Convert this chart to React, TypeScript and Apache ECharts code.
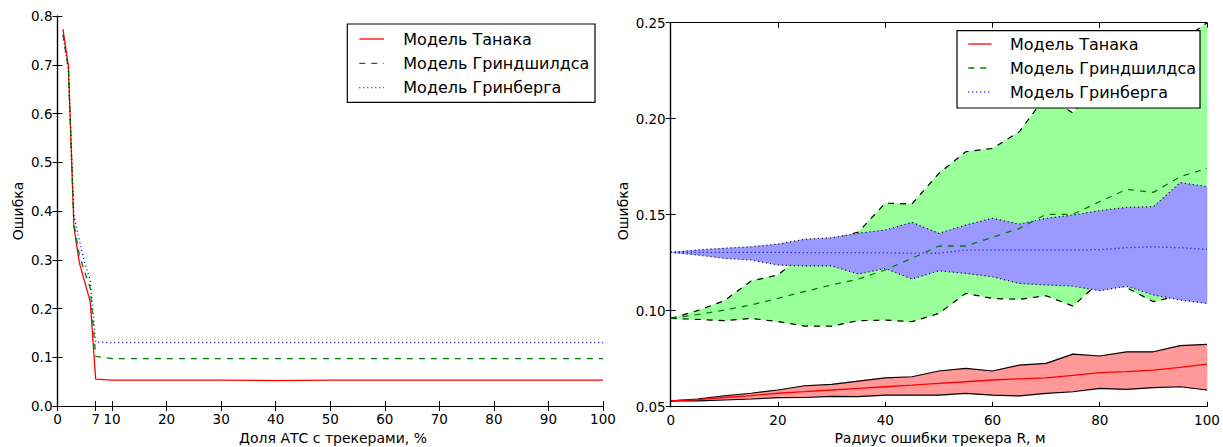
import React, { useEffect, useRef } from "react";
import * as echarts from "echarts";

// ---- Left chart data ----
const shareX = [1, 2, 3, 4, 5, 6, 7, 10, 20, 30, 40, 50, 60, 70, 80, 90, 100];
const tanakaShare = [0.773, 0.698, 0.368, 0.294, 0.254, 0.214, 0.055, 0.053, 0.053, 0.053, 0.052, 0.053, 0.053, 0.053, 0.053, 0.053, 0.053];
const greenshieldsShare = [0.762, 0.69, 0.375, 0.31, 0.275, 0.242, 0.102, 0.097, 0.097, 0.097, 0.097, 0.097, 0.097, 0.097, 0.097, 0.097, 0.097];
const greenbergShare = [0.76, 0.688, 0.392, 0.34, 0.293, 0.258, 0.131, 0.13, 0.13, 0.13, 0.13, 0.13, 0.13, 0.13, 0.13, 0.13, 0.13];
const shareTicks = [0, 7, 10, 20, 30, 40, 50, 60, 70, 80, 90, 100];

// ---- Right chart data ----
const radiusX = [0, 5, 10, 15, 20, 25, 30, 35, 40, 45, 50, 55, 60, 65, 70, 75, 80, 85, 90, 95, 100];
const tanakaMean = [0.053, 0.0537, 0.0548, 0.0558, 0.057, 0.0578, 0.0587, 0.0595, 0.0604, 0.0612, 0.0622, 0.063, 0.0639, 0.0645, 0.065, 0.0663, 0.0677, 0.0683, 0.069, 0.0705, 0.0722];
const tanakaLow = [0.053, 0.053, 0.0535, 0.054, 0.0547, 0.0548, 0.0554, 0.0552, 0.056, 0.056, 0.056, 0.0569, 0.056, 0.0556, 0.0569, 0.0578, 0.0595, 0.059, 0.0599, 0.0604, 0.0587];
const tanakaHigh = [0.053, 0.054, 0.0557, 0.057, 0.0587, 0.0609, 0.0616, 0.0633, 0.065, 0.0656, 0.0686, 0.07, 0.0686, 0.0717, 0.0726, 0.0774, 0.0764, 0.0786, 0.0786, 0.0818, 0.0825];
const greenMean = [0.096, 0.098, 0.1003, 0.103, 0.1064, 0.11, 0.1134, 0.1165, 0.1212, 0.1273, 0.1337, 0.1337, 0.1382, 0.1429, 0.1502, 0.1502, 0.1568, 0.1632, 0.1616, 0.1698, 0.1741];
const greenLow = [0.096, 0.0955, 0.0948, 0.096, 0.0943, 0.092, 0.092, 0.0948, 0.0951, 0.0943, 0.0986, 0.109, 0.1064, 0.1059, 0.1078, 0.1024, 0.115, 0.112, 0.1047, 0.108, 0.108];
const greenHigh = [0.096, 0.1, 0.1052, 0.1155, 0.1186, 0.13, 0.137, 0.141, 0.156, 0.1556, 0.1715, 0.1828, 0.1845, 0.1932, 0.212, 0.203, 0.22, 0.225, 0.232, 0.24, 0.25];
const berMean = [0.1304, 0.1304, 0.1304, 0.1304, 0.1304, 0.1302, 0.1302, 0.1302, 0.1301, 0.13, 0.1299, 0.1316, 0.1316, 0.1316, 0.1316, 0.1316, 0.1318, 0.1328, 0.1333, 0.1328, 0.1319];
const berLow = [0.1304, 0.129, 0.1273, 0.1264, 0.1238, 0.1233, 0.1233, 0.1191, 0.122, 0.1165, 0.1208, 0.1194, 0.1177, 0.1142, 0.1134, 0.1128, 0.1104, 0.1128, 0.1082, 0.1056, 0.1038];
const berHigh = [0.1304, 0.1316, 0.1325, 0.1333, 0.1347, 0.1372, 0.138, 0.1403, 0.142, 0.146, 0.1403, 0.1446, 0.1481, 0.1451, 0.1481, 0.1498, 0.1521, 0.1538, 0.1542, 0.1667, 0.1646];

const legendNames = ["Модель Танака", "Модель Гриндшилдса", "Модель Гринберга"];

const FONT = "DejaVu Sans";

const pairs = (xs: number[], ys: number[]) => xs.map((x, i) => [x, ys[i]]);

export default function App() {
  const ref = useRef<HTMLDivElement>(null);
  useEffect(() => {
    if (!ref.current) return;
    const chart = echarts.init(ref.current, undefined, { renderer: "svg" });

    const tickFont = { fontFamily: FONT, fontSize: 13.5, color: "#000" };
    const axisLine = { show: true, lineStyle: { color: "#000", width: 1.2 } };
    const tick = { show: true, inside: true, length: 5, lineStyle: { color: "#000", width: 1 } };

    const lineSeries = (name: string, data: number[][], color: string, type: any, xi: number, yi: number, width = 1.3, z = 20) => ({
      type: "line",
      name,
      xAxisIndex: xi,
      yAxisIndex: yi,
      data,
      symbol: "none",
      silent: true,
      z,
      lineStyle: { color, width, type },
    });

    // Filled band between low and high, drawn as one polygon through the axis coordinates.
    const band = (id: string, low: number[], high: number[], fill: string, z: number) => ({
      type: "custom",
      name: id,
      xAxisIndex: 2,
      yAxisIndex: 2,
      silent: true,
      z,
      data: [[radiusX[0], low[0]]],
      renderItem: (_params: any, api: any) => {
        const upper = radiusX.map((x, i) => api.coord([x, high[i]]));
        const lower = radiusX.map((x, i) => api.coord([x, low[i]])).reverse();
        return {
          type: "polygon",
          shape: { points: upper.concat(lower) },
          style: { fill, stroke: fill, lineWidth: 0.5 },
        };
      },
    });

    const legend = (bx: number, by: number, bw: number, bh: number, rows: number[], lx0: number, lx1: number, tx: number) => {
      const styles: any[] = [
        { stroke: "#ff0000", lineWidth: 1.3 },
        { stroke: "#008000", lineWidth: 1.3, lineDash: [6, 6] },
        { stroke: "#0000ff", lineWidth: 1.3, lineDash: [1, 3] },
      ];
      const els: any[] = [
        { type: "rect", shape: { x: bx, y: by, width: bw, height: bh }, style: { fill: "#fff", stroke: "#000", lineWidth: 1.2 }, z: 100 },
      ];
      rows.forEach((ry, i) => {
        els.push({ type: "line", shape: { x1: lx0, y1: ry, x2: lx1, y2: ry }, style: styles[i], z: 101 });
        els.push({
          type: "text",
          x: tx,
          y: ry,
          style: { text: legendNames[i], font: `16px "${FONT}"`, fill: "#000", align: "left", verticalAlign: "middle" },
          z: 101,
        });
      });
      return els;
    };

    const titleFont = `14px "${FONT}"`;

    const option: any = {
      animation: false,
      backgroundColor: "#fff",
      grid: [
        { left: 57.5, top: 16, width: 545.5, height: 390, containLabel: false },
        { left: 670.7, top: 22.7, width: 536.3, height: 384, containLabel: false },
      ],
      xAxis: [
        {
          type: "value", gridIndex: 0, min: 0, max: 100, position: "bottom", z: 50,
          axisLine, splitLine: { show: false },
          axisTick: { ...tick, customValues: shareTicks },
          axisLabel: { ...tickFont, margin: 6, customValues: shareTicks },
        },
        {
          type: "value", gridIndex: 0, min: 0, max: 100, position: "top", z: 50,
          axisLine, splitLine: { show: false },
          axisTick: { ...tick, customValues: shareTicks },
          axisLabel: { show: false },
        },
        {
          type: "value", gridIndex: 1, min: 0, max: 100, interval: 20, position: "bottom", z: 50,
          axisLine, splitLine: { show: false },
          axisTick: tick,
          axisLabel: { ...tickFont, margin: 6 },
        },
        {
          type: "value", gridIndex: 1, min: 0, max: 100, interval: 20, position: "top", z: 50,
          axisLine, splitLine: { show: false },
          axisTick: tick,
          axisLabel: { show: false },
        },
      ],
      yAxis: [
        {
          type: "value", gridIndex: 0, min: 0, max: 0.8, interval: 0.1, position: "left", z: 50,
          axisLine, splitLine: { show: false }, axisTick: tick,
          axisLabel: { ...tickFont, margin: 5, formatter: (v: number) => v.toFixed(1) },
        },
        {
          type: "value", gridIndex: 0, min: 0, max: 0.8, interval: 0.1, position: "right", z: 50,
          axisLine, splitLine: { show: false }, axisTick: tick, axisLabel: { show: false },
        },
        {
          type: "value", gridIndex: 1, min: 0.05, max: 0.25, interval: 0.05, position: "left", z: 50,
          axisLine, splitLine: { show: false }, axisTick: tick,
          axisLabel: { ...tickFont, margin: 5, formatter: (v: number) => v.toFixed(2) },
        },
        {
          type: "value", gridIndex: 1, min: 0.05, max: 0.25, interval: 0.05, position: "right", z: 50,
          axisLine, splitLine: { show: false }, axisTick: tick, axisLabel: { show: false },
        },
      ],
      series: [
        // left chart
        lineSeries(legendNames[0], pairs(shareX, tanakaShare), "#ff0000", "solid", 0, 0),
        lineSeries(legendNames[1], pairs(shareX, greenshieldsShare), "#008000", [6, 6], 0, 0),
        lineSeries(legendNames[2], pairs(shareX, greenbergShare), "#0000ff", [1, 3], 0, 0),
        // right chart bands (drawn in order: red, green, blue)
        band("tan", tanakaLow, tanakaHigh, "#ff9999", 2),
        lineSeries("tan-high", pairs(radiusX, tanakaHigh), "#000", "solid", 2, 2, 1.2, 3),
        lineSeries("tan-low", pairs(radiusX, tanakaLow), "#000", "solid", 2, 2, 1.2, 3),
        band("grn", greenLow, greenHigh, "#99ff99", 4),
        lineSeries("grn-high", pairs(radiusX, greenHigh), "#000", [6, 6], 2, 2, 1.2, 5),
        lineSeries("grn-low", pairs(radiusX, greenLow), "#000", [6, 6], 2, 2, 1.2, 5),
        band("ber", berLow, berHigh, "#9999ff", 6),
        lineSeries("ber-high", pairs(radiusX, berHigh), "#000", [1, 3], 2, 2, 1.2, 7),
        lineSeries("ber-low", pairs(radiusX, berLow), "#000", [1, 3], 2, 2, 1.2, 7),
        // right chart means
        lineSeries(legendNames[0] + " ", pairs(radiusX, tanakaMean), "#ff0000", "solid", 2, 2, 1.3, 10),
        lineSeries(legendNames[1] + " ", pairs(radiusX, greenMean), "#008000", [6, 6], 2, 2, 1.3, 10),
        lineSeries(legendNames[2] + " ", pairs(radiusX, berMean), "#0000ff", [1, 3], 2, 2, 1.3, 10),
      ],
      graphic: [
        { type: "text", x: 17.5, y: 211, rotation: Math.PI / 2, style: { text: "Ошибка", font: titleFont, fill: "#000", align: "center", verticalAlign: "middle" } },
        { type: "text", x: 622.7, y: 211, rotation: Math.PI / 2, style: { text: "Ошибка", font: titleFont, fill: "#000", align: "center", verticalAlign: "middle" } },
        { type: "text", x: 333, y: 438, style: { text: "Доля АТС с трекерами, %", font: titleFont, fill: "#000", align: "center", verticalAlign: "middle" } },
        { type: "text", x: 940, y: 438, style: { text: "Радиус ошибки трекера R, м", font: titleFont, fill: "#000", align: "center", verticalAlign: "middle" } },
        ...legend(347.3, 24, 247.7, 78.3, [39, 63.3, 87.7], 359.3, 384, 403.3),
        ...legend(957, 30.7, 243, 77.3, [44, 68, 92], 968.3, 991.7, 1010),
      ],
    };
    chart.setOption(option);
    return () => chart.dispose();
  }, []);
  return <div ref={ref} style={{ position: "fixed", left: 0, top: 0, width: 1223, height: 447 }} />;
}
